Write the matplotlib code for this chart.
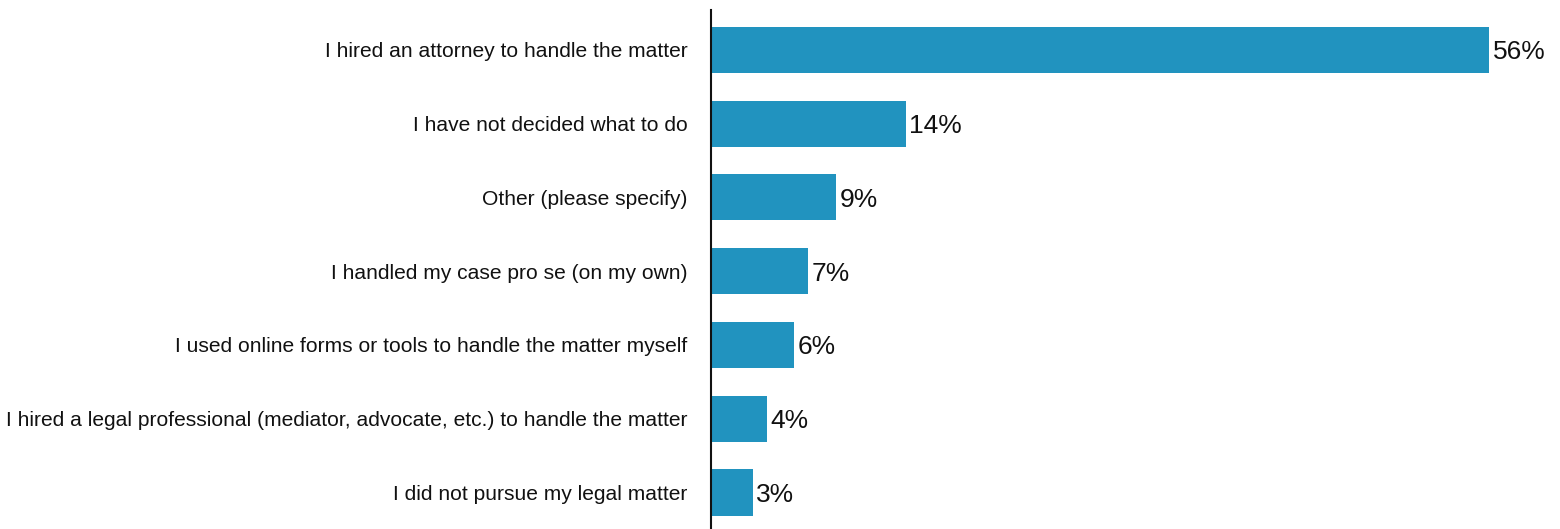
import matplotlib
matplotlib.use('Agg')
import matplotlib.pyplot as plt

categories = [
    'I hired an attorney to handle the matter',
    'I have not decided what to do',
    'Other (please specify)',
    'I handled my case pro se (on my own)',
    'I used online forms or tools to handle the matter myself',
    'I hired a legal professional (mediator, advocate, etc.) to handle the matter',
    'I did not pursue my legal matter',
]
values = [56, 14, 9, 7, 6, 4, 3]

plt.rcParams['font.family'] = ['Liberation Sans', 'DejaVu Sans']

fig = plt.figure(figsize=(15.6, 5.29), dpi=100)
ax = fig.add_axes([711 / 1560, 0, 1 - 711 / 1560, 1 - 10 / 529])

pos = list(range(len(values)))
ax.barh(pos, values, height=0.624, color='#2193bf')
for p, v in zip(pos, values):
    ax.text(v + 0.25, p, '%d%%' % v, va='center_baseline', ha='left',
            fontsize=19, color='#111111')

ax.set_xlim(0, 61.1)
ax.set_ylim(6.495, -0.542)
ax.set_yticks(pos)
ax.set_yticklabels(categories, fontsize=15.1, color='#111111')
ax.tick_params(axis='y', length=0, pad=17)
ax.set_xticks([])
for s in ['top', 'right', 'bottom']:
    ax.spines[s].set_visible(False)
ax.spines['left'].set_linewidth(1.5)
ax.spines['left'].set_color('#111111')

fig.savefig('out.png', dpi=100)
